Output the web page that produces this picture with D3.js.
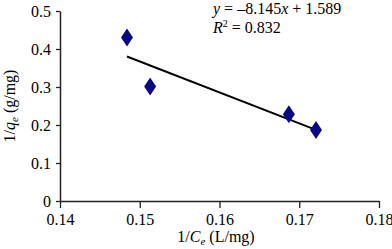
<!DOCTYPE html>
<html><head><meta charset="utf-8">
<script src="https://cdn.jsdelivr.net/npm/d3@7"></script>
<style>body{margin:0;background:#fff}svg{display:block}</style>
</head><body>
<svg id="c" width="392" height="249"></svg>
<script>
const xVals = [0.1484, 0.1513, 0.1687, 0.1721];
const yVals = [0.430, 0.301, 0.228, 0.187];
const xTicks = [0.14, 0.15, 0.16, 0.17, 0.18];
const yTicks = [0, 0.1, 0.2, 0.3, 0.4, 0.5];
const slope = -8.145, intercept = 1.589;
const FONT = "'Liberation Serif', 'Times New Roman', Tinos, 'DejaVu Serif', serif";

const svg = d3.select("#c");
const x = d3.scaleLinear().domain([0.14, 0.18]).range([60, 379]);
const y = d3.scaleLinear().domain([0, 0.5]).range([201, 11]);

const xa = svg.append("g").attr("transform","translate(0,201)")
  .call(d3.axisBottom(x).tickValues(xTicks).tickFormat(d=>d3.format(".2f")(d)).tickSize(7).tickSizeOuter(0));
const ya = svg.append("g").attr("transform","translate(60,0)")
  .call(d3.axisLeft(y).tickValues(yTicks).tickFormat(d=>d===0?"0":d3.format(".1f")(d)).tickSize(4).tickSizeOuter(0));
[xa,ya].forEach(g=>{
  g.attr("font-family", null).attr("font-size", null);
  g.select(".domain").attr("stroke","#222").attr("stroke-width",1.5);
  g.selectAll(".tick line").attr("stroke","#222").attr("stroke-width",1.3);
  g.selectAll("text").style("font-family",FONT).style("font-size","16px").attr("fill","#000");
});
xa.selectAll("text").attr("dy",null).attr("y",24);
ya.selectAll("text").attr("x",-9).attr("dy","0.34em");

// trend line
const x0 = d3.min(xVals), x1 = d3.max(xVals);
svg.append("line")
  .attr("x1",x(x0)).attr("y1",y(slope*x0+intercept))
  .attr("x2",x(x1)).attr("y2",y(slope*x1+intercept))
  .attr("stroke","#000").attr("stroke-width",2);

// markers
const data = xVals.map((v,i)=>({x:v,y:yVals[i]}));
svg.selectAll("path.pt").data(data).join("path").attr("class","pt")
  .attr("d","M0,-9L6,0L0,9L-6,0Z")
  .attr("transform",d=>`translate(${x(d.x)},${y(d.y)})`)
  .attr("fill","#0a0a82");

function txt(){ return svg.append("text").style("font-family",FONT).style("font-size","16px"); }

// equation
const eq = txt().attr("x",213).attr("y",14);
eq.append("tspan").attr("font-style","italic").text("y");
eq.append("tspan").text(" = \u20138.145");
eq.append("tspan").attr("font-style","italic").text("x");
eq.append("tspan").text(" + 1.589");
const r2 = txt().attr("x",213).attr("y",33);
r2.append("tspan").attr("font-style","italic").text("R");
r2.append("tspan").style("font-size","10px").attr("dy",-6).text("2");
r2.append("tspan").attr("dy",6).text(" = 0.832");

// x label
const xl = txt().attr("x",216).attr("y",242).attr("text-anchor","middle");
xl.append("tspan").text("1/");
xl.append("tspan").attr("font-style","italic").text("C");
xl.append("tspan").attr("font-style","italic").style("font-size","11px").attr("dy",3).text("e");
xl.append("tspan").attr("dy",-3).text(" (L/mg)");

// y label
const yl = txt().attr("transform","translate(15,106) rotate(-90)").attr("text-anchor","middle");
yl.append("tspan").text("1/");
yl.append("tspan").attr("font-style","italic").text("q");
yl.append("tspan").attr("font-style","italic").style("font-size","11px").attr("dy",3).text("e");
yl.append("tspan").attr("dy",-3).text(" (g/mg)");
</script>
</body></html>
